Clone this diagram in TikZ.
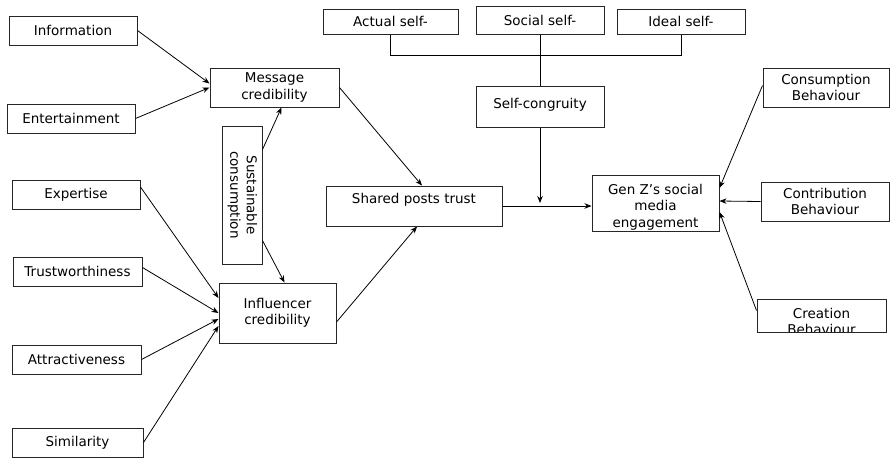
\documentclass[tikz,border=0pt]{standalone}
\usepackage{fontspec}
\setmainfont{DejaVu Sans}
\usepackage{graphicx}
\usetikzlibrary{arrows.meta}

\begin{document}
\begin{tikzpicture}[
  x=1pt, y=-1pt,
  font=\fontsize{13.5}{16.5}\selectfont,
  >={Stealth[length=7pt,width=5.5pt]},
  box/.style={rectangle, draw=black!85, line width=1pt, fill=white,
              minimum width=128pt, minimum height=29pt, align=center, inner sep=1pt},
  link/.style={->, line width=0.8pt},
]
\useasboundingbox (0,0) rectangle (890,459);

% ================= NODES (explicit coords, px) =================
\node[box]                                      (info)    at (73,30.5)    {Information};
\node[box]                                      (ent)     at (71,118.5)   {Entertainment};
\node[box, minimum width=129pt, minimum height=39pt] (msg) at (274.5,87.5) {Message\\credibility};
\node[box, minimum width=40pt, minimum height=138pt] (sust) at (242,195)
  {\rotatebox{-90}{\begin{tabular}{@{}c@{}}Sustainable\\consumption\end{tabular}}};

\node[box]                                      (exp)     at (76,195)     {Expertise};
\node[box, minimum width=129pt]                 (trust)   at (77.5,271.5) {Trustworthiness};
\node[box, minimum width=129pt]                 (attr)    at (76.5,359.5) {Attractiveness};
\node[box, minimum width=131pt]                 (sim)     at (77.5,442.5) {Similarity};
\node[box, minimum width=117pt, minimum height=60pt] (infl) at (277.5,313) {Influencer\\credibility};

\node[box, minimum width=176pt, minimum height=40pt, text depth=16pt] (shared) at (414,206) {Shared posts trust};

\node[box, minimum width=135pt, minimum height=25pt] (actual) at (390.5,21.5) {Actual self-};
\node[box, minimum height=28pt]                 (social)  at (540,20)     {Social self-};
\node[box, minimum height=25pt]                 (ideal)   at (681,21.5)   {Ideal self-};
\coordinate                                     (bar)     at (540,55);
\node[box, minimum height=41pt, text depth=7pt] (selfc)   at (540,106.5)  {Self-congruity};
\coordinate                                     (join)    at (540,203);

\node[box, minimum width=127pt, minimum height=56pt] (genz) at (655.5,203)
  {\rule{0pt}{18pt}Gen Z’s social\\media\\engagement};

\node[box, minimum width=126pt, minimum height=39pt] (consump) at (826,87.5)  {Consumption\\Behaviour};
\node[box, minimum height=39pt]                 (contrib) at (825,201.5)  {Contribution\\Behaviour};
\node[box, minimum width=129pt, minimum height=33pt,
      path picture={\node[draw=none, align=center] at ([yshift=-6pt]path picture bounding box.center) {Creation\\Behaviour};}]
                                                (creation) at (821.5,315.5) {};

% ================= EDGES =================
\draw[link] (info.east) -- ([yshift=4pt]msg.west);
\draw[link] (ent.east) -- (msg.west);
\draw[link] ([yshift=-24pt]sust.north east) -- ([xshift=7pt]msg.south);
\draw[link] ([yshift=24pt]sust.south east) -- ([xshift=7pt]infl.north);

\draw[link] ([yshift=8pt]exp.east) -- ([yshift=15pt]infl.west);
\draw[link] ([yshift=4pt]trust.east) -- (infl.west);
\draw[link] (attr.east) -- ([yshift=-6pt]infl.west);
\draw[link] (sim.east) -- ([yshift=-13pt]infl.west);

\draw[link] (msg.east) -- ([xshift=8pt]shared.north);
\draw[link] ([yshift=-9pt]infl.east) -- ([xshift=3pt]shared.south);
\draw[link] (shared.east) -- (shared.east -| genz.west);

\draw[line width=0.8pt] (actual.south) -- (actual.south |- bar) -- (ideal.south |- bar) -- (ideal.south);
\draw[line width=0.8pt] (social.south) -- (selfc.north);
\draw[link] (selfc.south) -- (join);

\draw[link] ([yshift=2pt]consump.west) -- ([yshift=15pt]genz.east);
\draw[link] (contrib.west) -- ([yshift=2pt]genz.east);
\draw[link] ([yshift=5pt]creation.west) -- ([yshift=-9pt]genz.east);

\end{tikzpicture}
\end{document}
